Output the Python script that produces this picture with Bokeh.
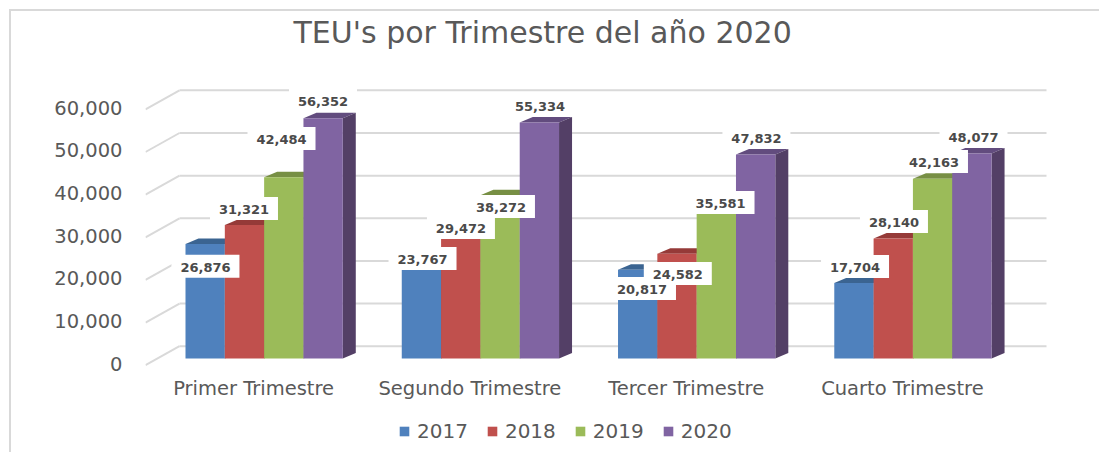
from bokeh.plotting import figure
from bokeh.models import (LinearAxis, Range1d, FixedTicker, Legend, LegendItem, Title)
from bokeh.core.properties import value
from bokeh.embed import file_html
from bokeh.resources import INLINE

# ---- data ----
categories = ["Primer Trimestre", "Segundo Trimestre", "Tercer Trimestre", "Cuarto Trimestre"]
years = ["2017", "2018", "2019", "2020"]
v2017 = [26876, 23767, 20817, 17704]
v2018 = [31321, 29472, 24582, 28140]
v2019 = [42484, 38272, 35581, 42163]
v2020 = [56352, 55334, 47832, 48077]
series = [v2017, v2018, v2019, v2020]
y_ticks = [0, 10000, 20000, 30000, 40000, 50000, 60000]

# ---- style ----
front = ["#4F81BD", "#C0504D", "#9BBB59", "#8064A2"]
top = ["#3B6491", "#953A38", "#778F44", "#624C7E"]
side = ["#355a84", "#853331", "#697e3c", "#533F66"]
GRID = "#D9D9D9"
TXT = "#595959"
FONT = "DejaVu Sans"

# ---- layout: page pixels (scales are derived from these) ----
PAGE = 11                                    # figure origin on the page, after its CSS border
W, H = 1088, 441
FL, FR, FT, FB = 145, 1099, 50, 446          # frame in page pixels (holds the legend too)
BASE_X, BAR_W = 185.0, 39.32                 # first bar left, bar width
BASE_Y, K = 358.0, 0.004264                  # pixels of value 0, pixels per unit
GROUP = 5.5                                   # group pitch in bar widths
DEPTH_X, DEPTH_Y = 13.0 / BAR_W, 5.5 / K      # bar depth in data units
WALL_X, WALL_RISE, WALL_DROP = 34.0 / BAR_W, 12.3 / K, 19.0 / K
GRID_END = (1046 - BASE_X) / BAR_W

x0, x1 = (FL - BASE_X) / BAR_W, (FR - BASE_X) / BAR_W
y0, y1 = (BASE_Y - FB) / K, (BASE_Y - FT) / K

p = figure(width=W, height=H, output_backend="svg", toolbar_location=None,
           x_axis_location=None, y_axis_location=None,
           x_range=Range1d(x0, x1), y_range=Range1d(y0, y1),
           min_border_left=FL - PAGE, min_border_right=PAGE + W - FR,
           min_border_top=FT - PAGE, min_border_bottom=PAGE + H - FB,
           frame_width=FR - FL, frame_height=FB - FT,
           background_fill_color="white", border_fill_color="white", outline_line_color=None,
           styles={"margin-left": "9px", "margin-top": "9px", "box-sizing": "content-box",
                   "border-left": f"2px solid {GRID}", "border-top": f"2px solid {GRID}"})
p.xgrid.visible = False
p.ygrid.visible = False

# extra scales: tick labels sit on the front plane, slightly offset from the bars
p.extra_y_ranges["labels"] = Range1d(y0 + 5 / K, y1 + 5 / K)
p.extra_x_ranges["labels"] = Range1d(x0 + 10.5 / BAR_W, x1 + 10.5 / BAR_W)

yaxis = LinearAxis(y_range_name="labels", ticker=FixedTicker(ticks=y_ticks),
                   major_label_overrides={t: f"{t:,}" for t in y_ticks},
                   axis_line_color=None, major_tick_line_color=None, minor_tick_line_color=None,
                   major_label_text_color=TXT, major_label_text_font=FONT,
                   major_label_text_font_size="19.5px", major_label_standoff=17)
p.add_layout(yaxis, "left")

group_centres = [g * GROUP + 2 for g in range(len(categories))]
xaxis = LinearAxis(x_range_name="labels", ticker=FixedTicker(ticks=group_centres),
                   major_label_overrides=dict(zip(group_centres, categories)),
                   axis_line_color=None, major_tick_line_color=None, minor_tick_line_color=None,
                   major_label_text_color=TXT, major_label_text_font=FONT,
                   major_label_text_font_size="19.5px", major_label_standoff=370 - FB)
p.add_layout(xaxis, "below")

# back wall gridlines and left-hand diagonals
for t in y_ticks:
    p.line([x0 + WALL_X, GRID_END], [t + WALL_RISE, t + WALL_RISE], line_color=GRID, line_width=2)
    p.line([x0, x0 + WALL_X], [t + WALL_RISE - WALL_DROP, t + WALL_RISE], line_color=GRID, line_width=2)

# 3-D bars
fronts = []
for s, vals in enumerate(series):
    lefts = [g * GROUP + s for g in range(len(vals))]
    rights = [l + 1 for l in lefts]
    p.patches([[l, r, r + DEPTH_X, l + DEPTH_X] for l, r in zip(lefts, rights)],
              [[v, v, v + DEPTH_Y, v + DEPTH_Y] for v in vals],
              fill_color=top[s], line_color=None)
    p.patches([[r, r + DEPTH_X, r + DEPTH_X, r] for r in rights],
              [[0, DEPTH_Y, v + DEPTH_Y, v] for v in vals],
              fill_color=side[s], line_color=None)
for s, vals in enumerate(series):
    lefts = [g * GROUP + s for g in range(len(vals))]
    fronts.append(p.quad(left=lefts, right=[l + 1 for l in lefts], bottom=[0] * len(vals), top=vals,
                         fill_color=front[s], line_color=None))

# hand-placed data labels: text centre, as pixel offset from the bar's top centre (up is positive)
label_dx = [
    [0.3, 1.1, 4.3, 1.1],
    [-0.5, 0.2, 0.8, 0.7],
    [-2.3, 0.9, 4.2, 1.4],
    [-0.1, 0.6, 0.8, 1.6],
]
label_dy = [
    [-23.3, -2.3, -19.8, 15.5],
    [15.4, 4.3, -20.8, 16],
    [37.8, -12.2, 3.3, 16.2],
    [16.7, 16.1, 16, 16],
]
for s, vals in enumerate(series):          # later series' boxes cover earlier labels
    cx = [g * GROUP + s + 0.5 + label_dx[s][g] / BAR_W for g in range(len(vals))]
    cy = [v + label_dy[s][g] / K for g, v in enumerate(vals)]
    p.rect(cx, [c + 1 / K for c in cy], width=68, height=23, width_units="screen", height_units="screen",
           fill_color="white", line_color=None)
    p.text(cx, cy, text=[f"{v:,}" for v in vals], text_align="center", text_baseline="middle",
           text_font=value(FONT), text_font_style="bold", text_font_size="13px", text_color="#4a4a4a")

# title
p.title = Title(text="TEU's por Trimestre del año 2020", text_font=FONT, text_font_size="30px",
                text_font_style="normal", text_color=TXT, align="left", offset=293 - FL, standoff=2)

# legend
legend = Legend(items=[LegendItem(label=y, renderers=[r]) for y, r in zip(years, fronts)],
                orientation="horizontal", location=(253, FB - 443), border_line_color=None,
                background_fill_alpha=0, glyph_width=12, glyph_height=12, label_standoff=7,
                spacing=18, padding=0, margin=0, label_text_font=FONT, label_text_font_size="20px",
                label_text_color=TXT)
p.add_layout(legend)

open("out.html", "w").write(file_html(p, INLINE))
